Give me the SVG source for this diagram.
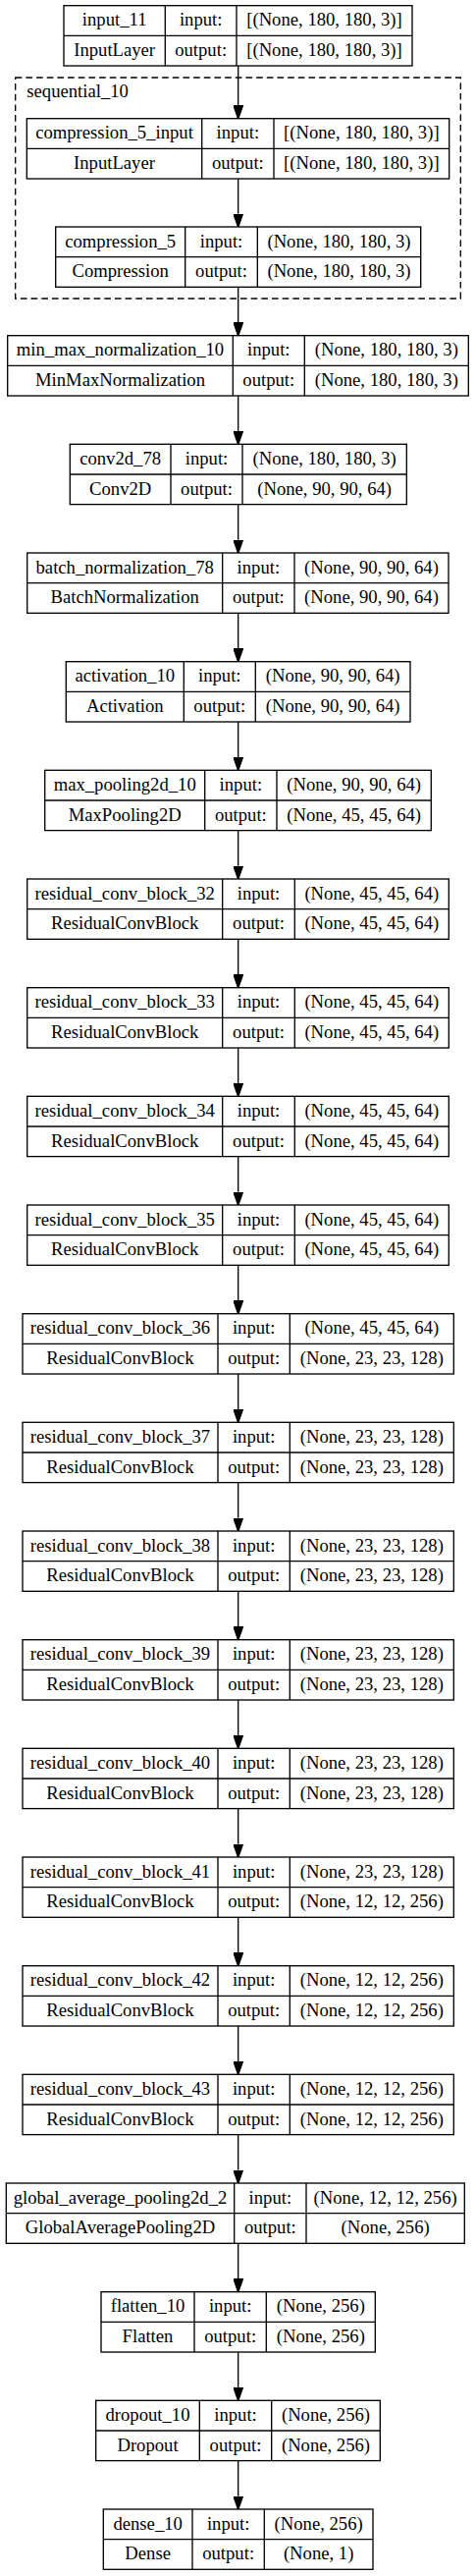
<svg xmlns="http://www.w3.org/2000/svg" width="485" height="2623" viewBox="0 0 485 2623">
<style>
rect.b{fill:#fff;stroke:#000;stroke-width:1.33}
line.d{stroke:#000;stroke-width:1.33}
text{font-family:"Liberation Serif","Times New Roman",serif;font-size:18.67px;fill:#000;text-anchor:middle}
.cl{fill:none;stroke:#000;stroke-width:1.33;stroke-dasharray:6.67,4}
.e{fill:none;stroke:#000;stroke-width:1.33;marker-end:url(#ah)}
</style>
<defs>
<marker id="ah" markerUnits="userSpaceOnUse" markerWidth="14" markerHeight="10" viewBox="0 0 13.3 9.34" refX="0" refY="4.67" orient="auto"><path d="M0,0L13.3,4.67L0,9.34z" fill="#000" stroke="#000" stroke-width="1"/></marker>
</defs>
<rect width="485" height="2623" fill="#fff"/>
<g id="cluster_sequential_10">
<rect class="cl" x="15.7" y="79" width="453.6" height="225"/>
<text x="27.3" y="99.3" style="text-anchor:start">sequential_10</text>
</g>
<g id="edges">
<path class="e" d="M242.7,67V107.4"/>
<path class="e" d="M242.7,182V217.7"/>
<path class="e" d="M242.7,292.3V328.4"/>
<path class="e" d="M242.7,403V439"/>
<path class="e" d="M242.7,513.6V549.7"/>
<path class="e" d="M242.7,624.3V660.4"/>
<path class="e" d="M242.7,735V771"/>
<path class="e" d="M242.7,845.6V881.7"/>
<path class="e" d="M242.7,956.3V992.4"/>
<path class="e" d="M242.7,1067V1103"/>
<path class="e" d="M242.7,1177.6V1213.7"/>
<path class="e" d="M242.7,1288.3V1324.4"/>
<path class="e" d="M242.7,1399V1435"/>
<path class="e" d="M242.7,1509.6V1545.7"/>
<path class="e" d="M242.7,1620.3V1656.4"/>
<path class="e" d="M242.7,1731V1767"/>
<path class="e" d="M242.7,1841.6V1877.7"/>
<path class="e" d="M242.7,1952.3V1988.4"/>
<path class="e" d="M242.7,2063V2099"/>
<path class="e" d="M242.7,2173.6V2209.7"/>
<path class="e" d="M242.7,2284.3V2320.4"/>
<path class="e" d="M242.7,2395V2431"/>
<path class="e" d="M242.7,2505.6V2541.7"/>
</g>
<g id="input_11" transform="translate(0,5.7)">
<rect class="b" x="65" y="0" width="355" height="61.3"/>
<line class="d" x1="65" y1="30.67" x2="420" y2="30.67"/>
<line class="d" x1="168.3" y1="0" x2="168.3" y2="61.3"/>
<line class="d" x1="241" y1="0" x2="241" y2="61.3"/>
<text x="116.65" y="20.7">input_11</text><text x="204.65" y="20.7">input:</text><text x="330.5" y="20.7">[(None, 180, 180, 3)]</text>
<text x="116.65" y="51.4">InputLayer</text><text x="204.65" y="51.4">output:</text><text x="330.5" y="51.4">[(None, 180, 180, 3)]</text>
</g>
<g id="compression_5_input" transform="translate(0,120.7)">
<rect class="b" x="27.3" y="0" width="430.4" height="61.3"/>
<line class="d" x1="27.3" y1="30.67" x2="457.7" y2="30.67"/>
<line class="d" x1="205.7" y1="0" x2="205.7" y2="61.3"/>
<line class="d" x1="279" y1="0" x2="279" y2="61.3"/>
<text x="116.5" y="20.7">compression_5_input</text><text x="242.35" y="20.7">input:</text><text x="368.35" y="20.7">[(None, 180, 180, 3)]</text>
<text x="116.5" y="51.4">InputLayer</text><text x="242.35" y="51.4">output:</text><text x="368.35" y="51.4">[(None, 180, 180, 3)]</text>
</g>
<g id="compression_5" transform="translate(0,231)">
<rect class="b" x="56.7" y="0" width="372" height="61.3"/>
<line class="d" x1="56.7" y1="30.67" x2="428.7" y2="30.67"/>
<line class="d" x1="188.7" y1="0" x2="188.7" y2="61.3"/>
<line class="d" x1="262.3" y1="0" x2="262.3" y2="61.3"/>
<text x="122.7" y="20.7">compression_5</text><text x="225.5" y="20.7">input:</text><text x="345.5" y="20.7">(None, 180, 180, 3)</text>
<text x="122.7" y="51.4">Compression</text><text x="225.5" y="51.4">output:</text><text x="345.5" y="51.4">(None, 180, 180, 3)</text>
</g>
<g id="min_max_normalization_10" transform="translate(0,341.7)">
<rect class="b" x="7.7" y="0" width="469.6" height="61.3"/>
<line class="d" x1="7.7" y1="30.67" x2="477.3" y2="30.67"/>
<line class="d" x1="237.3" y1="0" x2="237.3" y2="61.3"/>
<line class="d" x1="310.3" y1="0" x2="310.3" y2="61.3"/>
<text x="122.5" y="20.7">min_max_normalization_10</text><text x="273.8" y="20.7">input:</text><text x="393.8" y="20.7">(None, 180, 180, 3)</text>
<text x="122.5" y="51.4">MinMaxNormalization</text><text x="273.8" y="51.4">output:</text><text x="393.8" y="51.4">(None, 180, 180, 3)</text>
</g>
<g id="conv2d_78" transform="translate(0,452.3)">
<rect class="b" x="71.3" y="0" width="343" height="61.3"/>
<line class="d" x1="71.3" y1="30.67" x2="414.3" y2="30.67"/>
<line class="d" x1="174" y1="0" x2="174" y2="61.3"/>
<line class="d" x1="247" y1="0" x2="247" y2="61.3"/>
<text x="122.65" y="20.7">conv2d_78</text><text x="210.5" y="20.7">input:</text><text x="330.65" y="20.7">(None, 180, 180, 3)</text>
<text x="122.65" y="51.4">Conv2D</text><text x="210.5" y="51.4">output:</text><text x="330.65" y="51.4">(None, 90, 90, 64)</text>
</g>
<g id="batch_normalization_78" transform="translate(0,563)">
<rect class="b" x="27.7" y="0" width="429.3" height="61.3"/>
<line class="d" x1="27.7" y1="30.67" x2="457" y2="30.67"/>
<line class="d" x1="226.7" y1="0" x2="226.7" y2="61.3"/>
<line class="d" x1="300" y1="0" x2="300" y2="61.3"/>
<text x="127.2" y="20.7">batch_normalization_78</text><text x="263.35" y="20.7">input:</text><text x="378.5" y="20.7">(None, 90, 90, 64)</text>
<text x="127.2" y="51.4">BatchNormalization</text><text x="263.35" y="51.4">output:</text><text x="378.5" y="51.4">(None, 90, 90, 64)</text>
</g>
<g id="activation_10" transform="translate(0,673.7)">
<rect class="b" x="67.3" y="0" width="350.7" height="61.3"/>
<line class="d" x1="67.3" y1="30.67" x2="418" y2="30.67"/>
<line class="d" x1="187.3" y1="0" x2="187.3" y2="61.3"/>
<line class="d" x1="260.3" y1="0" x2="260.3" y2="61.3"/>
<text x="127.3" y="20.7">activation_10</text><text x="223.8" y="20.7">input:</text><text x="339.15" y="20.7">(None, 90, 90, 64)</text>
<text x="127.3" y="51.4">Activation</text><text x="223.8" y="51.4">output:</text><text x="339.15" y="51.4">(None, 90, 90, 64)</text>
</g>
<g id="max_pooling2d_10" transform="translate(0,784.3)">
<rect class="b" x="45.7" y="0" width="393.6" height="61.3"/>
<line class="d" x1="45.7" y1="30.67" x2="439.3" y2="30.67"/>
<line class="d" x1="208.7" y1="0" x2="208.7" y2="61.3"/>
<line class="d" x1="282" y1="0" x2="282" y2="61.3"/>
<text x="127.2" y="20.7">max_pooling2d_10</text><text x="245.35" y="20.7">input:</text><text x="360.65" y="20.7">(None, 90, 90, 64)</text>
<text x="127.2" y="51.4">MaxPooling2D</text><text x="245.35" y="51.4">output:</text><text x="360.65" y="51.4">(None, 45, 45, 64)</text>
</g>
<g id="residual_conv_block_32" transform="translate(0,895)">
<rect class="b" x="27.7" y="0" width="429.6" height="61.3"/>
<line class="d" x1="27.7" y1="30.67" x2="457.3" y2="30.67"/>
<line class="d" x1="226.7" y1="0" x2="226.7" y2="61.3"/>
<line class="d" x1="300.3" y1="0" x2="300.3" y2="61.3"/>
<text x="127.2" y="20.7">residual_conv_block_32</text><text x="263.5" y="20.7">input:</text><text x="378.8" y="20.7">(None, 45, 45, 64)</text>
<text x="127.2" y="51.4">ResidualConvBlock</text><text x="263.5" y="51.4">output:</text><text x="378.8" y="51.4">(None, 45, 45, 64)</text>
</g>
<g id="residual_conv_block_33" transform="translate(0,1005.7)">
<rect class="b" x="27.7" y="0" width="429.6" height="61.3"/>
<line class="d" x1="27.7" y1="30.67" x2="457.3" y2="30.67"/>
<line class="d" x1="226.7" y1="0" x2="226.7" y2="61.3"/>
<line class="d" x1="300.3" y1="0" x2="300.3" y2="61.3"/>
<text x="127.2" y="20.7">residual_conv_block_33</text><text x="263.5" y="20.7">input:</text><text x="378.8" y="20.7">(None, 45, 45, 64)</text>
<text x="127.2" y="51.4">ResidualConvBlock</text><text x="263.5" y="51.4">output:</text><text x="378.8" y="51.4">(None, 45, 45, 64)</text>
</g>
<g id="residual_conv_block_34" transform="translate(0,1116.3)">
<rect class="b" x="27.7" y="0" width="429.6" height="61.3"/>
<line class="d" x1="27.7" y1="30.67" x2="457.3" y2="30.67"/>
<line class="d" x1="226.7" y1="0" x2="226.7" y2="61.3"/>
<line class="d" x1="300.3" y1="0" x2="300.3" y2="61.3"/>
<text x="127.2" y="20.7">residual_conv_block_34</text><text x="263.5" y="20.7">input:</text><text x="378.8" y="20.7">(None, 45, 45, 64)</text>
<text x="127.2" y="51.4">ResidualConvBlock</text><text x="263.5" y="51.4">output:</text><text x="378.8" y="51.4">(None, 45, 45, 64)</text>
</g>
<g id="residual_conv_block_35" transform="translate(0,1227)">
<rect class="b" x="27.7" y="0" width="429.6" height="61.3"/>
<line class="d" x1="27.7" y1="30.67" x2="457.3" y2="30.67"/>
<line class="d" x1="226.7" y1="0" x2="226.7" y2="61.3"/>
<line class="d" x1="300.3" y1="0" x2="300.3" y2="61.3"/>
<text x="127.2" y="20.7">residual_conv_block_35</text><text x="263.5" y="20.7">input:</text><text x="378.8" y="20.7">(None, 45, 45, 64)</text>
<text x="127.2" y="51.4">ResidualConvBlock</text><text x="263.5" y="51.4">output:</text><text x="378.8" y="51.4">(None, 45, 45, 64)</text>
</g>
<g id="residual_conv_block_36" transform="translate(0,1337.7)">
<rect class="b" x="23" y="0" width="439.3" height="61.3"/>
<line class="d" x1="23" y1="30.67" x2="462.3" y2="30.67"/>
<line class="d" x1="222" y1="0" x2="222" y2="61.3"/>
<line class="d" x1="295.3" y1="0" x2="295.3" y2="61.3"/>
<text x="122.5" y="20.7">residual_conv_block_36</text><text x="258.65" y="20.7">input:</text><text x="378.8" y="20.7">(None, 45, 45, 64)</text>
<text x="122.5" y="51.4">ResidualConvBlock</text><text x="258.65" y="51.4">output:</text><text x="378.8" y="51.4">(None, 23, 23, 128)</text>
</g>
<g id="residual_conv_block_37" transform="translate(0,1448.3)">
<rect class="b" x="23" y="0" width="439.3" height="61.3"/>
<line class="d" x1="23" y1="30.67" x2="462.3" y2="30.67"/>
<line class="d" x1="222" y1="0" x2="222" y2="61.3"/>
<line class="d" x1="295.3" y1="0" x2="295.3" y2="61.3"/>
<text x="122.5" y="20.7">residual_conv_block_37</text><text x="258.65" y="20.7">input:</text><text x="378.8" y="20.7">(None, 23, 23, 128)</text>
<text x="122.5" y="51.4">ResidualConvBlock</text><text x="258.65" y="51.4">output:</text><text x="378.8" y="51.4">(None, 23, 23, 128)</text>
</g>
<g id="residual_conv_block_38" transform="translate(0,1559)">
<rect class="b" x="23" y="0" width="439.3" height="61.3"/>
<line class="d" x1="23" y1="30.67" x2="462.3" y2="30.67"/>
<line class="d" x1="222" y1="0" x2="222" y2="61.3"/>
<line class="d" x1="295.3" y1="0" x2="295.3" y2="61.3"/>
<text x="122.5" y="20.7">residual_conv_block_38</text><text x="258.65" y="20.7">input:</text><text x="378.8" y="20.7">(None, 23, 23, 128)</text>
<text x="122.5" y="51.4">ResidualConvBlock</text><text x="258.65" y="51.4">output:</text><text x="378.8" y="51.4">(None, 23, 23, 128)</text>
</g>
<g id="residual_conv_block_39" transform="translate(0,1669.7)">
<rect class="b" x="23" y="0" width="439.3" height="61.3"/>
<line class="d" x1="23" y1="30.67" x2="462.3" y2="30.67"/>
<line class="d" x1="222" y1="0" x2="222" y2="61.3"/>
<line class="d" x1="295.3" y1="0" x2="295.3" y2="61.3"/>
<text x="122.5" y="20.7">residual_conv_block_39</text><text x="258.65" y="20.7">input:</text><text x="378.8" y="20.7">(None, 23, 23, 128)</text>
<text x="122.5" y="51.4">ResidualConvBlock</text><text x="258.65" y="51.4">output:</text><text x="378.8" y="51.4">(None, 23, 23, 128)</text>
</g>
<g id="residual_conv_block_40" transform="translate(0,1780.3)">
<rect class="b" x="23" y="0" width="439.3" height="61.3"/>
<line class="d" x1="23" y1="30.67" x2="462.3" y2="30.67"/>
<line class="d" x1="222" y1="0" x2="222" y2="61.3"/>
<line class="d" x1="295.3" y1="0" x2="295.3" y2="61.3"/>
<text x="122.5" y="20.7">residual_conv_block_40</text><text x="258.65" y="20.7">input:</text><text x="378.8" y="20.7">(None, 23, 23, 128)</text>
<text x="122.5" y="51.4">ResidualConvBlock</text><text x="258.65" y="51.4">output:</text><text x="378.8" y="51.4">(None, 23, 23, 128)</text>
</g>
<g id="residual_conv_block_41" transform="translate(0,1891)">
<rect class="b" x="23" y="0" width="439.3" height="61.3"/>
<line class="d" x1="23" y1="30.67" x2="462.3" y2="30.67"/>
<line class="d" x1="222" y1="0" x2="222" y2="61.3"/>
<line class="d" x1="295.3" y1="0" x2="295.3" y2="61.3"/>
<text x="122.5" y="20.7">residual_conv_block_41</text><text x="258.65" y="20.7">input:</text><text x="378.8" y="20.7">(None, 23, 23, 128)</text>
<text x="122.5" y="51.4">ResidualConvBlock</text><text x="258.65" y="51.4">output:</text><text x="378.8" y="51.4">(None, 12, 12, 256)</text>
</g>
<g id="residual_conv_block_42" transform="translate(0,2001.7)">
<rect class="b" x="23" y="0" width="439.3" height="61.3"/>
<line class="d" x1="23" y1="30.67" x2="462.3" y2="30.67"/>
<line class="d" x1="222" y1="0" x2="222" y2="61.3"/>
<line class="d" x1="295.3" y1="0" x2="295.3" y2="61.3"/>
<text x="122.5" y="20.7">residual_conv_block_42</text><text x="258.65" y="20.7">input:</text><text x="378.8" y="20.7">(None, 12, 12, 256)</text>
<text x="122.5" y="51.4">ResidualConvBlock</text><text x="258.65" y="51.4">output:</text><text x="378.8" y="51.4">(None, 12, 12, 256)</text>
</g>
<g id="residual_conv_block_43" transform="translate(0,2112.3)">
<rect class="b" x="23" y="0" width="439.3" height="61.3"/>
<line class="d" x1="23" y1="30.67" x2="462.3" y2="30.67"/>
<line class="d" x1="222" y1="0" x2="222" y2="61.3"/>
<line class="d" x1="295.3" y1="0" x2="295.3" y2="61.3"/>
<text x="122.5" y="20.7">residual_conv_block_43</text><text x="258.65" y="20.7">input:</text><text x="378.8" y="20.7">(None, 12, 12, 256)</text>
<text x="122.5" y="51.4">ResidualConvBlock</text><text x="258.65" y="51.4">output:</text><text x="378.8" y="51.4">(None, 12, 12, 256)</text>
</g>
<g id="global_average_pooling2d_2" transform="translate(0,2223)">
<rect class="b" x="6.3" y="0" width="467" height="61.3"/>
<line class="d" x1="6.3" y1="30.67" x2="473.3" y2="30.67"/>
<line class="d" x1="238.7" y1="0" x2="238.7" y2="61.3"/>
<line class="d" x1="312" y1="0" x2="312" y2="61.3"/>
<text x="122.5" y="20.7">global_average_pooling2d_2</text><text x="275.35" y="20.7">input:</text><text x="392.65" y="20.7">(None, 12, 12, 256)</text>
<text x="122.5" y="51.4">GlobalAveragePooling2D</text><text x="275.35" y="51.4">output:</text><text x="392.65" y="51.4">(None, 256)</text>
</g>
<g id="flatten_10" transform="translate(0,2333.7)">
<rect class="b" x="103" y="0" width="279.3" height="61.3"/>
<line class="d" x1="103" y1="30.67" x2="382.3" y2="30.67"/>
<line class="d" x1="198" y1="0" x2="198" y2="61.3"/>
<line class="d" x1="271.3" y1="0" x2="271.3" y2="61.3"/>
<text x="150.5" y="20.7">flatten_10</text><text x="234.65" y="20.7">input:</text><text x="326.8" y="20.7">(None, 256)</text>
<text x="150.5" y="51.4">Flatten</text><text x="234.65" y="51.4">output:</text><text x="326.8" y="51.4">(None, 256)</text>
</g>
<g id="dropout_10" transform="translate(0,2444.3)">
<rect class="b" x="97.7" y="0" width="289.6" height="61.3"/>
<line class="d" x1="97.7" y1="30.67" x2="387.3" y2="30.67"/>
<line class="d" x1="203.3" y1="0" x2="203.3" y2="61.3"/>
<line class="d" x1="276.7" y1="0" x2="276.7" y2="61.3"/>
<text x="150.5" y="20.7">dropout_10</text><text x="240" y="20.7">input:</text><text x="332" y="20.7">(None, 256)</text>
<text x="150.5" y="51.4">Dropout</text><text x="240" y="51.4">output:</text><text x="332" y="51.4">(None, 256)</text>
</g>
<g id="dense_10" transform="translate(0,2555)">
<rect class="b" x="105.3" y="0" width="274.7" height="61.3"/>
<line class="d" x1="105.3" y1="30.67" x2="380" y2="30.67"/>
<line class="d" x1="196" y1="0" x2="196" y2="61.3"/>
<line class="d" x1="269.3" y1="0" x2="269.3" y2="61.3"/>
<text x="150.65" y="20.7">dense_10</text><text x="232.65" y="20.7">input:</text><text x="324.65" y="20.7">(None, 256)</text>
<text x="150.65" y="51.4">Dense</text><text x="232.65" y="51.4">output:</text><text x="324.65" y="51.4">(None, 1)</text>
</g>
</svg>
